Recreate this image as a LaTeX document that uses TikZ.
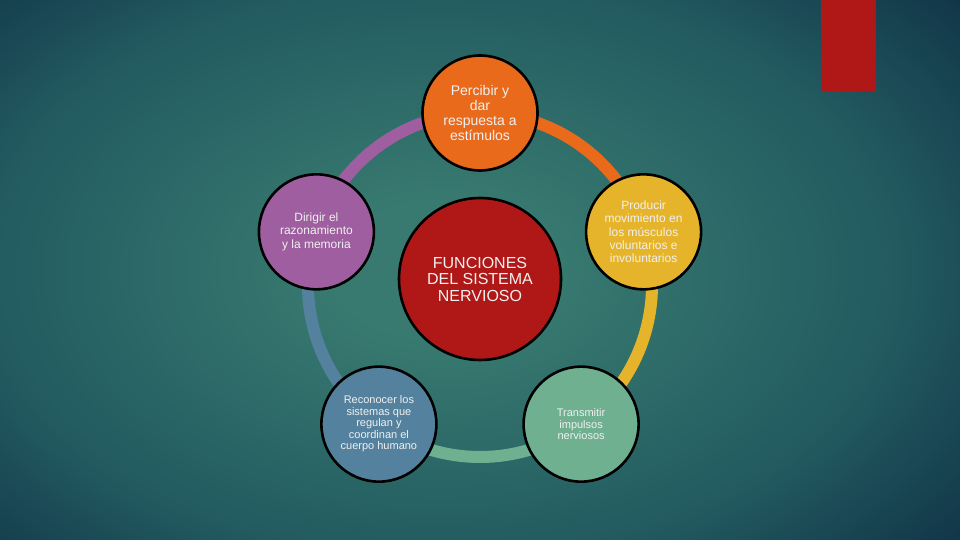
\documentclass[tikz,border=0pt]{standalone}
\usepackage{fontspec}
\setmainfont{Liberation Sans}
\usetikzlibrary{positioning}
\definecolor{bgIn}{RGB}{56,122,112}
\definecolor{bgMid}{RGB}{34,90,96}
\definecolor{bgOut}{RGB}{15,48,68}
\definecolor{redC}{RGB}{176,24,24}
\definecolor{orangeC}{RGB}{234,106,28}
\definecolor{purpleC}{RGB}{158,94,160}
\definecolor{yellowC}{RGB}{230,180,42}
\definecolor{blueC}{RGB}{84,130,158}
\definecolor{greenC}{RGB}{110,176,144}
\pgfdeclareradialshading{bgshade}{\pgfpoint{0bp}{0bp}}{color(0bp)=(bgIn); color(5bp)=(bgIn); color(22bp)=(bgMid); color(34bp)=(bgOut); color(50bp)=(bgOut)}
\pgfdeclarelayer{back}
\pgfdeclarelayer{ringlayer}
\pgfsetlayers{back,ringlayer,main}
\begin{document}
\begin{tikzpicture}[x=1pt,y=1pt,
    bubble/.style={circle, draw=black, line width=2.6pt, minimum size=115pt, inner sep=0pt, align=center, text=white!94!black},
    ringarc/.style={line width=12pt}]
    \useasboundingbox (0,0) rectangle (960,540);
    \begin{pgfonlayer}{back}
        \clip (0,0) rectangle (960,540);
        \shade[shading=bgshade] (-80,-60) rectangle (960,600);
        \fill[redC] (821,449) rectangle (876,540);
    \end{pgfonlayer}
    \coordinate (ring) at (480,255);
    \node[bubble, fill=redC, minimum size=162pt, font=\fontsize{16}{16.5}\selectfont] (funciones) at (480,261) {FUNCIONES\\DEL SISTEMA\\NERVIOSO};
    \node[bubble, fill=orangeC, font=\fontsize{14}{15}\selectfont] (percibir) at ([shift={(90:172)}]ring) {Percibir y\\dar\\respuesta a\\estímulos};
    \node[bubble, fill=purpleC, font=\fontsize{12}{13.5}\selectfont] (dirigir) at ([shift={(162:172)}]ring) {Dirigir el\\razonamiento\\y la memoria};
    \node[bubble, fill=yellowC, font=\fontsize{12}{13.3}\selectfont] (producir) at ([shift={(18:172)}]ring) {Producir\\movimiento en\\los músculos\\voluntarios e\\involuntarios};
    \node[bubble, fill=blueC, font=\fontsize{11}{11.5}\selectfont] (reconocer) at ([shift={(234:172)}]ring) {Reconocer los\\sistemas que\\regulan y\\coordinan el\\cuerpo humano};
    \node[bubble, fill=greenC, font=\fontsize{11}{11.7}\selectfont] (transmitir) at ([shift={(306:172)}]ring) {Transmitir\\impulsos\\nerviosos};
    % ring segments between the bubbles
    \begin{pgfonlayer}{ringlayer}
        \draw[ringarc, draw=orangeC] (producir.center) arc[start angle=18, end angle=90, radius=172];
        \draw[ringarc, draw=purpleC] (percibir.center) arc[start angle=90, end angle=162, radius=172];
        \draw[ringarc, draw=blueC] (dirigir.center) arc[start angle=162, end angle=234, radius=172];
        \draw[ringarc, draw=greenC] (reconocer.center) arc[start angle=234, end angle=306, radius=172];
        \draw[ringarc, draw=yellowC] (transmitir.center) arc[start angle=306, end angle=378, radius=172];
    \end{pgfonlayer}
\end{tikzpicture}
\end{document}
